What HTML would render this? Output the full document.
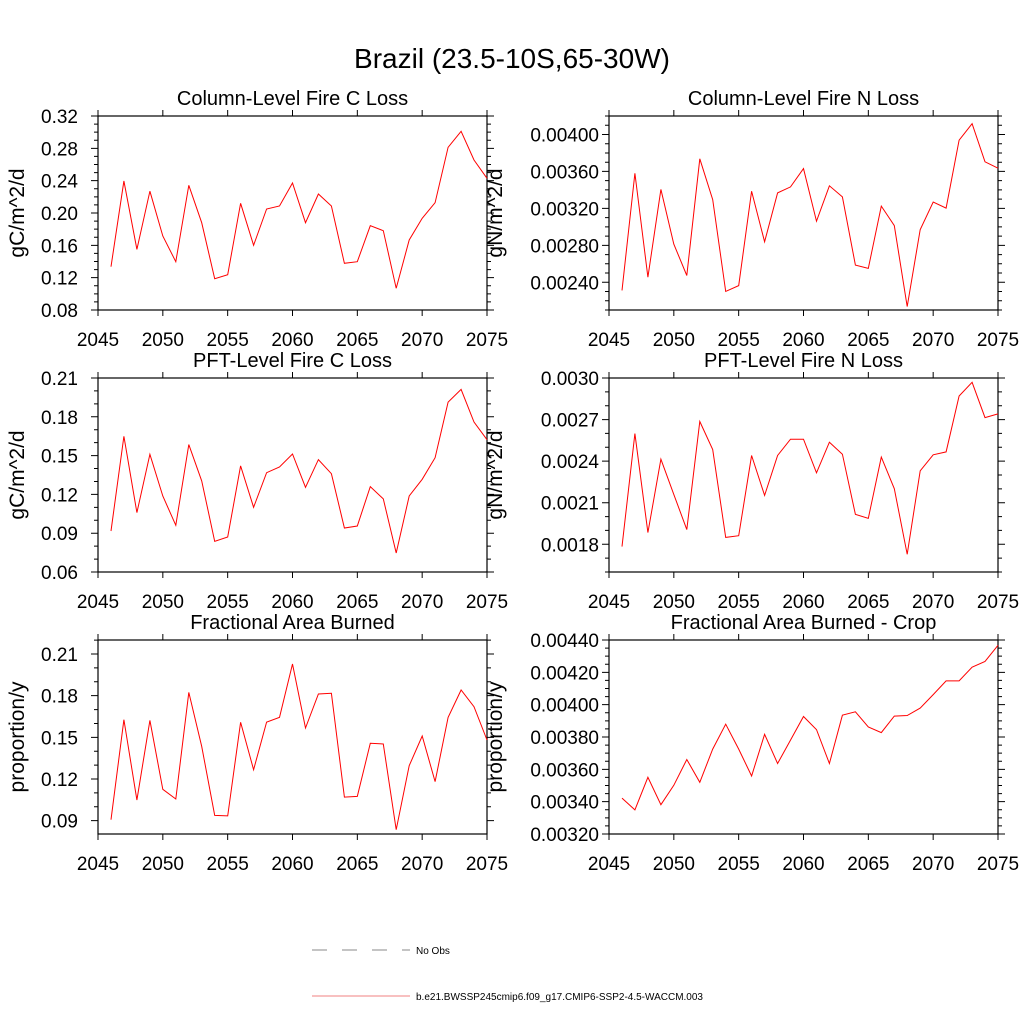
<!DOCTYPE html>
<html><head><meta charset="utf-8"><style>
body{margin:0;background:#fff;}
svg{display:block;font-family:"Liberation Sans",Arial,sans-serif;}
</style></head><body>
<svg id="c" width="1024" height="1024" viewBox="0 0 1024 1024">
<text x="512" y="68" font-size="28" text-anchor="middle">Brazil (23.5-10S,65-30W)</text>
<g>
<line x1="312" y1="950" x2="410" y2="950" stroke="#888" stroke-width="1" stroke-dasharray="15,15"/>
<text x="416" y="954" font-size="10">No Obs</text>
<line x1="312" y1="996" x2="410" y2="996" stroke="#f08080" stroke-width="1"/>
<text x="416" y="1000" font-size="10">b.e21.BWSSP245cmip6.f09_g17.CMIP6-SSP2-4.5-WACCM.003</text>
</g>
</svg>
<script>
const years = [2046,2047,2048,2049,2050,2051,2052,2053,2054,2055,2056,2057,2058,2059,2060,2061,2062,2063,2064,2065,2066,2067,2068,2069,2070,2071,2072,2073,2074,2075];
const xTicks = [2045,2050,2055,2060,2065,2070,2075];
const colCLoss = [0.1336,0.2396,0.155,0.227,0.1716,0.1398,0.2343,0.188,0.1187,0.1237,0.212,0.16,0.205,0.2087,0.2371,0.188,0.2235,0.2087,0.1378,0.1398,0.1843,0.1781,0.1069,0.1666,0.1935,0.2128,0.2813,0.3011,0.2656,0.2429];
const colNLoss = [0.002312,0.00358,0.002455,0.003405,0.002813,0.002473,0.003737,0.003295,0.002301,0.002364,0.003386,0.002838,0.003368,0.003433,0.003631,0.003061,0.003444,0.003324,0.002586,0.00255,0.003225,0.003014,0.002137,0.00297,0.003269,0.003203,0.003938,0.004117,0.003704,0.003635];
const pftCLoss = [0.0917,0.1649,0.1059,0.151,0.1188,0.0961,0.1585,0.1304,0.0837,0.0871,0.142,0.11,0.1368,0.1412,0.1512,0.1255,0.1469,0.136,0.094,0.0956,0.126,0.1165,0.0747,0.1188,0.1317,0.1484,0.1914,0.2012,0.176,0.1623];
const pftNLoss = [0.001783,0.002599,0.001884,0.002414,0.00216,0.001906,0.002686,0.002484,0.00185,0.001862,0.002441,0.002153,0.002441,0.002558,0.002558,0.002316,0.002537,0.00245,0.002016,0.001987,0.002429,0.002201,0.001728,0.00233,0.002446,0.002467,0.00287,0.002969,0.002714,0.002741];
const areaBurned = [0.0907,0.1627,0.1049,0.1622,0.1126,0.1056,0.1824,0.1435,0.0938,0.0934,0.1608,0.1267,0.161,0.1644,0.2028,0.1567,0.1812,0.1817,0.107,0.1075,0.1457,0.1452,0.0835,0.1296,0.151,0.1181,0.1644,0.1841,0.1721,0.1481];
const areaBurnedCrop = [0.003422,0.003349,0.003551,0.003381,0.003501,0.003661,0.00352,0.003725,0.003879,0.003725,0.003559,0.003817,0.003636,0.003781,0.003927,0.003846,0.003636,0.003935,0.003956,0.003862,0.003827,0.003929,0.003933,0.003979,0.004062,0.004147,0.004147,0.004232,0.004267,0.004367];
const panels = [
 {name:'column-c-loss',title:'Column-Level Fire C Loss',unit:'gC/m^2/d',data:colCLoss,x0:98,x1:487,y0:116,y1:310,ymin:0.08,ymax:0.32,major:0.04,minor:0.01,dec:2,lab:20,ut:81},
 {name:'column-n-loss',title:'Column-Level Fire N Loss',unit:'gN/m^2/d',data:colNLoss,x0:609,x1:998,y0:116,y1:310,ymin:0.0021,ymax:0.0042,major:0.0004,minor:0.0001,dec:5,tstart:0.0024,lab:10,ut:114},
 {name:'pft-c-loss',title:'PFT-Level Fire C Loss',unit:'gC/m^2/d',data:pftCLoss,x0:98,x1:487,y0:378,y1:572,ymin:0.06,ymax:0.21,major:0.03,minor:0.01,dec:2,lab:20,ut:81},
 {name:'pft-n-loss',title:'PFT-Level Fire N Loss',unit:'gN/m^2/d',data:pftNLoss,x0:609,x1:998,y0:378,y1:572,ymin:0.0016,ymax:0.003,major:0.0003,minor:0.0001,dec:4,tstart:0.0018,lab:10,ut:114},
 {name:'area-burned',title:'Fractional Area Burned',unit:'proportion/y',data:areaBurned,x0:98,x1:487,y0:640,y1:834,ymin:0.0804,ymax:0.2201,major:0.03,minor:0.01,dec:2,tstart:0.09,lab:20,ut:81},
 {name:'area-burned-crop',title:'Fractional Area Burned - Crop',unit:'proportion/y',data:areaBurnedCrop,x0:609,x1:998,y0:640,y1:834,ymin:0.0032,ymax:0.0044,major:0.0002,minor:0.00005,dec:5,lab:10,ut:114}
];
const NS='http://www.w3.org/2000/svg';
const svg=document.getElementById('c');
function mk(tag,attrs,parent){const e=document.createElementNS(NS,tag);for(const k in attrs)e.setAttribute(k,attrs[k]);parent.appendChild(e);return e;}
panels.forEach(p=>{
  const g=mk('g',{},svg);
  
  
  const xs=v=>p.x0+(v-2045)/30*(p.x1-p.x0);
  const ys=v=>p.y1-(v-p.ymin)/(p.ymax-p.ymin)*(p.y1-p.y0);
  const t=mk('text',{x:(p.x0+p.x1)/2,y:p.y0-11,'font-size':20,'text-anchor':'middle'},g);
  t.textContent=p.title;
  
  
  const yl=mk('text',{x:0,y:0,'font-size':21,'text-anchor':'middle',transform:`translate(${p.x0-p.ut+7},${(p.y0+p.y1)/2}) rotate(-90)`},g);
  yl.textContent=p.unit;
  
  
  let path='';
  xTicks.forEach(v=>{const x=xs(v);path+=`M${x},${p.y1}v6M${x},${p.y0}v-6`;
    const tl=mk('text',{x:x,y:p.y1+36,'font-size':19,'text-anchor':'middle'},g);tl.textContent=v;
    
    });
  const eps=1e-9;
  let m0=Math.ceil((p.ymin-eps)/p.minor)*p.minor;
  for(let v=m0;v<=p.ymax+eps;v+=p.minor){const y=ys(v);path+=`M${p.x0},${y}h-4M${p.x1},${y}h4`;}
  let s=p.tstart!==undefined?p.tstart:p.ymin;
  for(let v=s;v<=p.ymax+eps;v+=p.major){const y=ys(v);path+=`M${p.x0},${y}h-7M${p.x1},${y}h7`;
    const tl=mk('text',{x:p.x0-p.lab,y:y+7,'font-size':19,'text-anchor':'end'},g);tl.textContent=v.toFixed(p.dec);
    
    }
  const ax=mk('path',{d:path,stroke:'#000','stroke-width':1,fill:'none'},g);
  
  
  const box=mk('rect',{x:p.x0,y:p.y0,width:p.x1-p.x0,height:p.y1-p.y0,fill:'none',stroke:'#000','stroke-width':1.2},g);
  
  
  const pts=p.data.map((v,i)=>xs(years[i]).toFixed(1)+','+ys(v).toFixed(1)).join(' ');
  const ln=mk('polyline',{points:pts,fill:'none',stroke:'#ff0000','stroke-width':1},g);
  
  
});
</script>
</body></html>
